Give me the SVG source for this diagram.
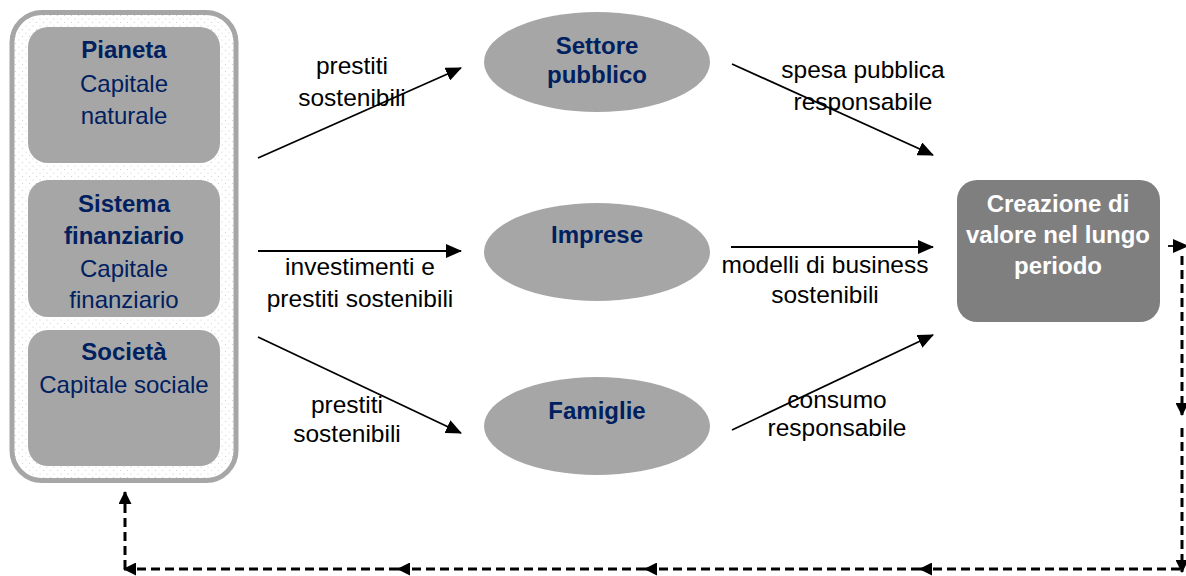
<svg xmlns="http://www.w3.org/2000/svg" width="1186" height="576" viewBox="0 0 1186 576">
<style>
.t{font-family:"Liberation Sans",Arial,sans-serif;font-size:24px;text-anchor:middle}
.n{fill:#002060}
.b{font-weight:bold}
.w{fill:#ffffff}
.k{fill:#000000;font-size:24.5px}
.box{fill:#A6A6A6}
.c{stroke:#000;stroke-width:1.8;fill:none}
.d{stroke:#000;stroke-width:3;fill:none;stroke-dasharray:9 5}
</style>
<defs>
<pattern id="dots" width="7" height="7" patternUnits="userSpaceOnUse">
<rect width="7" height="7" fill="#ffffff"/>
<circle cx="1.5" cy="1.5" r="0.6" fill="#cccccc"/>
<circle cx="5" cy="5" r="0.6" fill="#cccccc"/>
</pattern>
<marker id="ah" markerWidth="16" markerHeight="14" refX="15" refY="7" orient="auto" markerUnits="userSpaceOnUse">
<path d="M0,0 L16,7 L0,14 Z" fill="#000"/>
</marker>
<marker id="dh" markerWidth="13" markerHeight="13" refX="12" refY="6.5" orient="auto" markerUnits="userSpaceOnUse">
<path d="M0,0 L13,6.5 L0,13 Z" fill="#000"/>
</marker>
</defs>

<g id="capitali">
<rect x="12" y="12.5" width="224" height="468" rx="30" fill="url(#dots)" stroke="#A6A6A6" stroke-width="5"/>
</g>
<g id="pianeta">
<rect class="box" x="28" y="27" width="192" height="136" rx="20"/>
<text class="t n b" x="124" y="58">Pianeta</text>
<text class="t n" x="124" y="92">Capitale</text>
<text class="t n" x="124" y="124">naturale</text>
</g>
<g id="sistema">
<rect class="box" x="28" y="180" width="192" height="137" rx="20"/>
<text class="t n b" x="124" y="212">Sistema</text>
<text class="t n b" x="124" y="244">finanziario</text>
<text class="t n" x="124" y="277">Capitale</text>
<text class="t n" x="124" y="308">finanziario</text>
</g>
<g id="societa">
<rect class="box" x="28" y="330" width="192" height="136" rx="20"/>
<text class="t n b" x="124" y="360">Società</text>
<text class="t n" x="124" y="393">Capitale sociale</text>
</g>

<g id="settore">
<ellipse class="box" cx="597" cy="62" rx="113" ry="50"/>
<text class="t n b" x="597" y="54">Settore</text>
<text class="t n b" x="597" y="83">pubblico</text>
</g>
<g id="imprese">
<ellipse class="box" cx="597" cy="252" rx="113" ry="49"/>
<text class="t n b" x="597" y="243">Imprese</text>
</g>
<g id="famiglie">
<ellipse class="box" cx="597" cy="426" rx="113" ry="49"/>
<text class="t n b" x="597" y="419">Famiglie</text>
</g>

<g id="creazione">
<rect x="957" y="180" width="203" height="142" rx="20" fill="#7F7F7F"/>
<text class="t w b" x="1058" y="212">Creazione di</text>
<text class="t w b" x="1058" y="243">valore nel lungo</text>
<text class="t w b" x="1058" y="274">periodo</text>
</g>

<g id="connectors">
<line class="c" x1="258" y1="158" x2="461" y2="68" marker-end="url(#ah)"/>
<line class="c" x1="258" y1="251" x2="461" y2="251" marker-end="url(#ah)"/>
<line class="c" x1="258" y1="337" x2="461" y2="433" marker-end="url(#ah)"/>
<line class="c" x1="732" y1="64" x2="933" y2="155" marker-end="url(#ah)"/>
<line class="c" x1="731" y1="247" x2="933" y2="247" marker-end="url(#ah)"/>
<line class="c" x1="732" y1="430" x2="933" y2="335" marker-end="url(#ah)"/>

<line class="c" x1="1168" y1="246" x2="1188" y2="246" marker-end="url(#ah)"/>
<line class="d" x1="1182" y1="256" x2="1182" y2="415" marker-end="url(#dh)"/>
<line class="d" x1="1182" y1="428" x2="1182" y2="572" marker-end="url(#dh)"/>
<line class="d" x1="1180" y1="569" x2="920" y2="569" marker-end="url(#dh)"/>
<line class="d" x1="920" y1="569" x2="645" y2="569" marker-end="url(#dh)"/>
<line class="d" x1="645" y1="569" x2="398" y2="569" marker-end="url(#dh)"/>
<line class="d" x1="398" y1="569" x2="124" y2="569" marker-end="url(#dh)"/>
<line class="d" x1="125" y1="569" x2="125" y2="492" marker-end="url(#dh)"/>

<text class="t k" x="352" y="74">prestiti</text>
<text class="t k" x="352" y="106">sostenibili</text>
<text class="t k" x="360" y="275">investimenti e</text>
<text class="t k" x="360" y="307">prestiti sostenibili</text>
<text class="t k" x="347" y="413">prestiti</text>
<text class="t k" x="347" y="442">sostenibili</text>
<text class="t k" x="863" y="78">spesa pubblica</text>
<text class="t k" x="863" y="110">responsabile</text>
<text class="t k" x="825" y="273">modelli di business</text>
<text class="t k" x="825" y="303">sostenibili</text>
<text class="t k" x="837" y="408">consumo</text>
<text class="t k" x="837" y="436">responsabile</text>
</g>
</svg>
